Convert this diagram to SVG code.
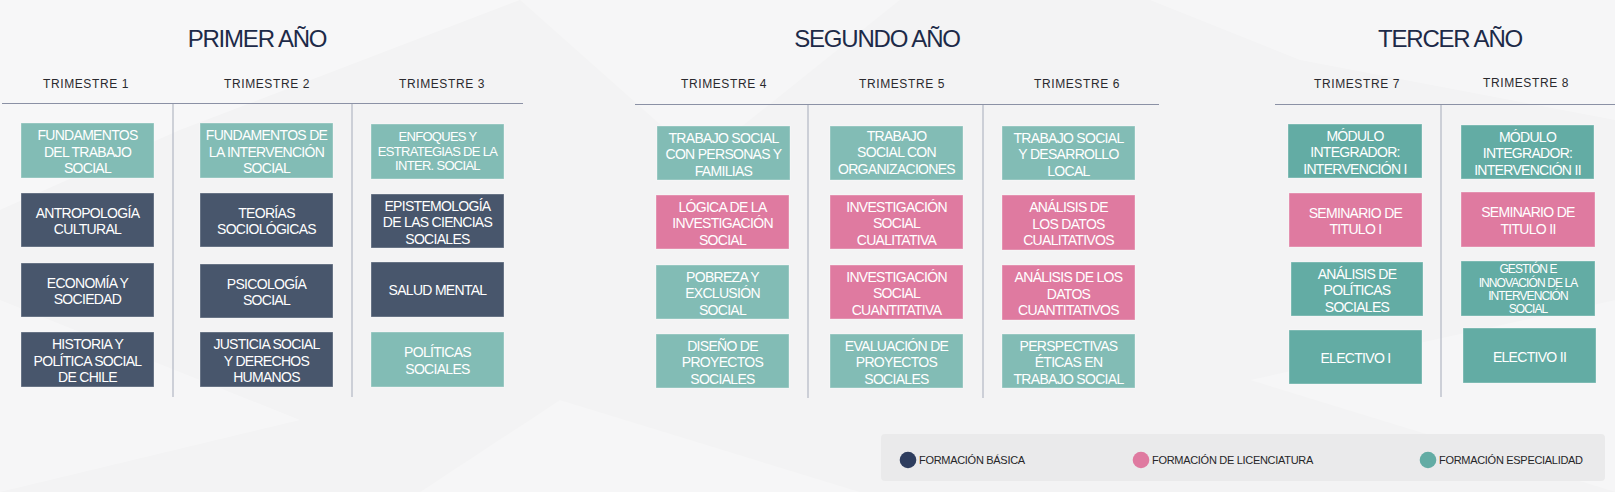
<svg xmlns="http://www.w3.org/2000/svg" width="1615" height="492" viewBox="0 0 1615 492">
<style>
.title{font-family:"Liberation Sans",Arial,sans-serif;font-size:24px;fill:#1d2a48;letter-spacing:-1.2px;text-anchor:middle}
.tri{font-family:"Liberation Sans",Arial,sans-serif;font-size:12px;fill:#2a2a2e;letter-spacing:0.6px;text-anchor:middle}
.bt{font-family:"Liberation Sans",Arial,sans-serif;font-size:14px;fill:#ffffff;letter-spacing:-0.7px;text-anchor:middle}
.bs{font-family:"Liberation Sans",Arial,sans-serif;font-size:13px;fill:#ffffff;letter-spacing:-0.7px;text-anchor:middle}
.bx{font-family:"Liberation Sans",Arial,sans-serif;font-size:12px;fill:#ffffff;letter-spacing:-0.9px;text-anchor:middle}
.lg{font-family:"Liberation Sans",Arial,sans-serif;font-size:11px;fill:#262628;letter-spacing:-0.3px}
.teal{fill:#82bcb5;stroke:#ffffff;stroke-opacity:0.35;stroke-width:1}
.dteal{fill:#63aca4;stroke:#ffffff;stroke-opacity:0.35;stroke-width:1}
.slate{fill:#48566c;stroke:#ffffff;stroke-opacity:0.35;stroke-width:1}
.pink{fill:#df7aa0;stroke:#ffffff;stroke-opacity:0.35;stroke-width:1}
.hl{stroke:#8b91a5;stroke-width:1.2}
.vl{stroke:#b3b7c3;stroke-width:1.2}
</style>
<rect x="0" y="0" width="1615" height="492" fill="#f3f3f4"/>
<g id="background" fill="#ffffff">
<polygon points="0,0 520,0 180,130 0,210" fill-opacity="0.35"/>
<polygon points="520,0 900,0 700,160" fill-opacity="0.25"/>
<polygon points="1150,0 1615,0 1615,120 1300,60" fill-opacity="0.3"/>
<polygon points="0,300 300,420 0,492" fill-opacity="0.3"/>
<polygon points="560,400 860,492 420,492" fill-opacity="0.25"/>
<polygon points="1250,380 1615,300 1615,492" fill-opacity="0.25"/>
</g>

<g id="headers">
<text class="title" x="257" y="47">PRIMER AÑO</text>
<text class="title" x="877" y="47">SEGUNDO AÑO</text>
<text class="title" x="1450" y="47">TERCER AÑO</text>
<text class="tri" x="86" y="88">TRIMESTRE 1</text>
<text class="tri" x="267" y="88">TRIMESTRE 2</text>
<text class="tri" x="442" y="88">TRIMESTRE 3</text>
<text class="tri" x="724" y="88">TRIMESTRE 4</text>
<text class="tri" x="902" y="88">TRIMESTRE 5</text>
<text class="tri" x="1077" y="88">TRIMESTRE 6</text>
<text class="tri" x="1357" y="88">TRIMESTRE 7</text>
<text class="tri" x="1526" y="87">TRIMESTRE 8</text>
</g>

<g id="connectors">
<line class="hl" x1="2" y1="103.5" x2="523" y2="103.5"/>
<line class="vl" x1="173" y1="104" x2="173" y2="397"/>
<line class="vl" x1="352" y1="104" x2="352" y2="397"/>
<line class="hl" x1="635" y1="104.5" x2="1159" y2="104.5"/>
<line class="vl" x1="808" y1="105" x2="808" y2="398"/>
<line class="vl" x1="983" y1="105" x2="983" y2="398"/>
<line class="hl" x1="1275" y1="104.5" x2="1615" y2="104.5"/>
<line class="vl" x1="1441" y1="105" x2="1441" y2="397"/>
</g>

<!-- Year 1 -->
<g id="t1-fundamentos"><rect class="teal" x="21" y="123" width="133" height="55"/>
<text class="bt"><tspan x="87.5" y="140">FUNDAMENTOS</tspan><tspan x="87.5" y="156.5">DEL TRABAJO</tspan><tspan x="87.5" y="173">SOCIAL</tspan></text></g>
<g id="t1-antropologia"><rect class="slate" x="21" y="193" width="133" height="54"/>
<text class="bt"><tspan x="87.5" y="217.8">ANTROPOLOGÍA</tspan><tspan x="87.5" y="234.3">CULTURAL</tspan></text></g>
<g id="t1-economia"><rect class="slate" x="21" y="263" width="133" height="54"/>
<text class="bt"><tspan x="87.5" y="287.8">ECONOMÍA Y</tspan><tspan x="87.5" y="304.3">SOCIEDAD</tspan></text></g>
<g id="t1-historia"><rect class="slate" x="21" y="332" width="133" height="55"/>
<text class="bt"><tspan x="87.5" y="349">HISTORIA Y</tspan><tspan x="87.5" y="365.5">POLÍTICA SOCIAL</tspan><tspan x="87.5" y="382">DE CHILE</tspan></text></g>

<g id="t2-fundamentos"><rect class="teal" x="200" y="123" width="133" height="55"/>
<text class="bt"><tspan x="266.5" y="140">FUNDAMENTOS DE</tspan><tspan x="266.5" y="156.5">LA INTERVENCIÓN</tspan><tspan x="266.5" y="173">SOCIAL</tspan></text></g>
<g id="t2-teorias"><rect class="slate" x="200" y="193" width="133" height="54"/>
<text class="bt"><tspan x="266.5" y="217.8">TEORÍAS</tspan><tspan x="266.5" y="234.3">SOCIOLÓGICAS</tspan></text></g>
<g id="t2-psicologia"><rect class="slate" x="200" y="264" width="133" height="54"/>
<text class="bt"><tspan x="266.5" y="288.8">PSICOLOGÍA</tspan><tspan x="266.5" y="305.3">SOCIAL</tspan></text></g>
<g id="t2-justicia"><rect class="slate" x="200" y="332" width="133" height="55"/>
<text class="bt"><tspan x="266.5" y="349">JUSTICIA SOCIAL</tspan><tspan x="266.5" y="365.5">Y DERECHOS</tspan><tspan x="266.5" y="382">HUMANOS</tspan></text></g>

<g id="t3-enfoques"><rect class="teal" x="371" y="124" width="133" height="55"/>
<text class="bs"><tspan x="437.5" y="141">ENFOQUES Y</tspan><tspan x="437.5" y="155.5">ESTRATEGIAS DE LA</tspan><tspan x="437.5" y="170">INTER. SOCIAL</tspan></text></g>
<g id="t3-epistemologia"><rect class="slate" x="371" y="194" width="133" height="54"/>
<text class="bt"><tspan x="437.5" y="210.5">EPISTEMOLOGÍA</tspan><tspan x="437.5" y="227">DE LAS CIENCIAS</tspan><tspan x="437.5" y="243.5">SOCIALES</tspan></text></g>
<g id="t3-salud"><rect class="slate" x="371" y="262" width="133" height="55"/>
<text class="bt"><tspan x="437.5" y="295">SALUD MENTAL</tspan></text></g>
<g id="t3-politicas"><rect class="teal" x="371" y="332" width="133" height="55"/>
<text class="bt"><tspan x="437.5" y="357.3">POLÍTICAS</tspan><tspan x="437.5" y="373.8">SOCIALES</tspan></text></g>

<!-- Year 2 -->
<g id="t4-personas"><rect class="teal" x="657" y="126" width="133" height="54"/>
<text class="bt"><tspan x="723.5" y="142.5">TRABAJO SOCIAL</tspan><tspan x="723.5" y="159">CON PERSONAS Y</tspan><tspan x="723.5" y="175.5">FAMILIAS</tspan></text></g>
<g id="t4-logica"><rect class="pink" x="656" y="195" width="133" height="54"/>
<text class="bt"><tspan x="722.5" y="211.5">LÓGICA DE LA</tspan><tspan x="722.5" y="228">INVESTIGACIÓN</tspan><tspan x="722.5" y="244.5">SOCIAL</tspan></text></g>
<g id="t4-pobreza"><rect class="teal" x="656" y="265" width="133" height="54"/>
<text class="bt"><tspan x="722.5" y="281.5">POBREZA Y</tspan><tspan x="722.5" y="298">EXCLUSIÓN</tspan><tspan x="722.5" y="314.5">SOCIAL</tspan></text></g>
<g id="t4-diseno"><rect class="teal" x="656" y="334" width="133" height="54"/>
<text class="bt"><tspan x="722.5" y="350.5">DISEÑO DE</tspan><tspan x="722.5" y="367">PROYECTOS</tspan><tspan x="722.5" y="383.5">SOCIALES</tspan></text></g>

<g id="t5-organizaciones"><rect class="teal" x="830" y="126" width="133" height="54"/>
<text class="bt"><tspan x="896.5" y="140.5">TRABAJO</tspan><tspan x="896.5" y="157">SOCIAL CON</tspan><tspan x="896.5" y="173.5">ORGANIZACIONES</tspan></text></g>
<g id="t5-cualitativa"><rect class="pink" x="830" y="195" width="133" height="54"/>
<text class="bt"><tspan x="896.5" y="211.5">INVESTIGACIÓN</tspan><tspan x="896.5" y="228">SOCIAL</tspan><tspan x="896.5" y="244.5">CUALITATIVA</tspan></text></g>
<g id="t5-cuantitativa"><rect class="pink" x="830" y="265" width="133" height="54"/>
<text class="bt"><tspan x="896.5" y="281.5">INVESTIGACIÓN</tspan><tspan x="896.5" y="298">SOCIAL</tspan><tspan x="896.5" y="314.5">CUANTITATIVA</tspan></text></g>
<g id="t5-evaluacion"><rect class="teal" x="830" y="334" width="133" height="54"/>
<text class="bt"><tspan x="896.5" y="350.5">EVALUACIÓN DE</tspan><tspan x="896.5" y="367">PROYECTOS</tspan><tspan x="896.5" y="383.5">SOCIALES</tspan></text></g>

<g id="t6-desarrollo"><rect class="teal" x="1002" y="126" width="133" height="54"/>
<text class="bt"><tspan x="1068.5" y="142.5">TRABAJO SOCIAL</tspan><tspan x="1068.5" y="159">Y DESARROLLO</tspan><tspan x="1068.5" y="175.5">LOCAL</tspan></text></g>
<g id="t6-cualitativos"><rect class="pink" x="1002" y="195" width="133" height="55"/>
<text class="bt"><tspan x="1068.5" y="212">ANÁLISIS DE</tspan><tspan x="1068.5" y="228.5">LOS DATOS</tspan><tspan x="1068.5" y="245">CUALITATIVOS</tspan></text></g>
<g id="t6-cuantitativos"><rect class="pink" x="1002" y="265" width="133" height="55"/>
<text class="bt"><tspan x="1068.5" y="282">ANÁLISIS DE LOS</tspan><tspan x="1068.5" y="298.5">DATOS</tspan><tspan x="1068.5" y="315">CUANTITATIVOS</tspan></text></g>
<g id="t6-eticas"><rect class="teal" x="1002" y="334" width="133" height="54"/>
<text class="bt"><tspan x="1068.5" y="350.5">PERSPECTIVAS</tspan><tspan x="1068.5" y="367">ÉTICAS EN</tspan><tspan x="1068.5" y="383.5">TRABAJO SOCIAL</tspan></text></g>

<!-- Year 3 -->
<g id="t7-modulo"><rect class="dteal" x="1288" y="124" width="134" height="54"/>
<text class="bt"><tspan x="1355" y="140.5">MÓDULO</tspan><tspan x="1355" y="157">INTEGRADOR:</tspan><tspan x="1355" y="173.5">INTERVENCIÓN I</tspan></text></g>
<g id="t7-seminario"><rect class="pink" x="1289" y="193" width="133" height="54"/>
<text class="bt"><tspan x="1355.5" y="217.8">SEMINARIO DE</tspan><tspan x="1355.5" y="234.3">TITULO I</tspan></text></g>
<g id="t7-analisis"><rect class="dteal" x="1291" y="262" width="132" height="54"/>
<text class="bt"><tspan x="1357" y="278.5">ANÁLISIS DE</tspan><tspan x="1357" y="295">POLÍTICAS</tspan><tspan x="1357" y="311.5">SOCIALES</tspan></text></g>
<g id="t7-electivo"><rect class="dteal" x="1289" y="330" width="133" height="54"/>
<text class="bt"><tspan x="1355.5" y="363">ELECTIVO I</tspan></text></g>

<g id="t8-modulo"><rect class="dteal" x="1461" y="125" width="133" height="54"/>
<text class="bt"><tspan x="1527.5" y="141.5">MÓDULO</tspan><tspan x="1527.5" y="158">INTEGRADOR:</tspan><tspan x="1527.5" y="174.5">INTERVENCIÓN II</tspan></text></g>
<g id="t8-seminario"><rect class="pink" x="1461" y="192" width="134" height="55"/>
<text class="bt"><tspan x="1528" y="217.3">SEMINARIO DE</tspan><tspan x="1528" y="233.8">TITULO II</tspan></text></g>
<g id="t8-gestion"><rect class="dteal" x="1461" y="261" width="134" height="55"/>
<text class="bx"><tspan x="1528" y="273.3">GESTIÓN E</tspan><tspan x="1528" y="286.6">INNOVACIÓN DE LA</tspan><tspan x="1528" y="300">INTERVENCIÓN</tspan><tspan x="1528" y="313.3">SOCIAL</tspan></text></g>
<g id="t8-electivo"><rect class="dteal" x="1463" y="328" width="133" height="55"/>
<text class="bt"><tspan x="1529.5" y="361.5">ELECTIVO II</tspan></text></g>

<g id="legend">
<rect x="881" y="434" width="724" height="47" rx="4" fill="#eaeaeb"/>
<circle cx="908" cy="460" r="8.3" fill="#2e3d5e"/>
<text class="lg" x="919" y="464">FORMACIÓN BÁSICA</text>
<circle cx="1141" cy="460" r="8.3" fill="#df7aa0"/>
<text class="lg" x="1152" y="464">FORMACIÓN DE LICENCIATURA</text>
<circle cx="1428" cy="460" r="8.3" fill="#63aca4"/>
<text class="lg" x="1439" y="464">FORMACIÓN ESPECIALIDAD</text>
</g>
</svg>
